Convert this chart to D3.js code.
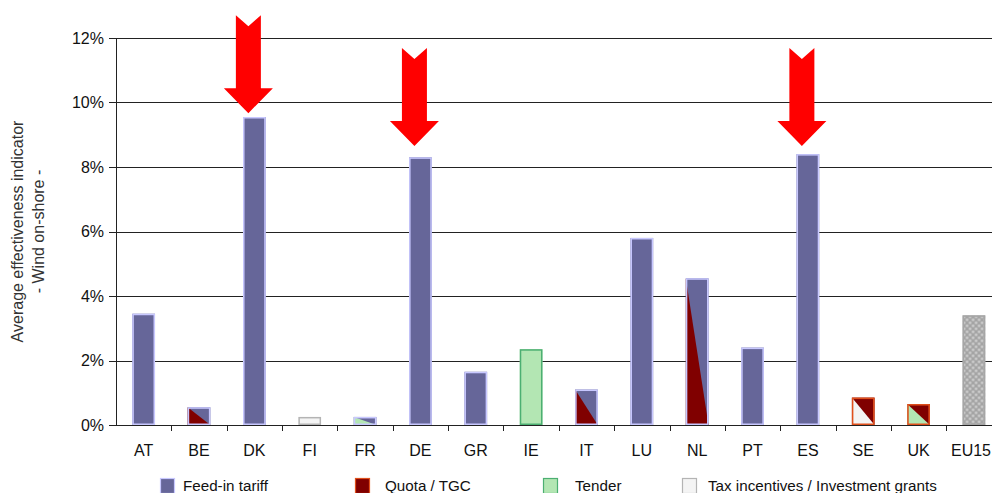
<!DOCTYPE html>
<html>
<head>
<meta charset="utf-8">
<script src="https://cdn.jsdelivr.net/npm/d3@7"></script>
<style>
  html, body { margin: 0; padding: 0; background: #fff; }
  svg { display: block; font-family: "Liberation Sans", Arial, sans-serif; }
</style>
</head>
<body>
<svg id="chart" width="992" height="493"></svg>
<script>
// ---- data ----
const categories = ["AT","BE","DK","FI","FR","DE","GR","IE","IT","LU","NL","PT","ES","SE","UK","EU15"];
const values     = [3.45, 0.55, 9.55, 0.25, 0.25, 8.3, 1.65, 2.35, 1.1, 5.8, 4.55, 2.4, 8.4, 0.85, 0.65, 3.4];
// scheme drawn in the upper-right triangle and in the lower-left triangle of each bar
const upperScheme = ["fit","fit","fit","tax","fit","fit","fit","tender","fit","fit","fit","fit","fit","quota","quota","eu"];
const lowerScheme = ["fit","quota","fit","tax","tender","fit","fit","tender","quota","fit","quota","fit","fit","tax","tender","eu"];
const yTicks = [0, 2, 4, 6, 8, 10, 12];
const arrowCountries = ["DK","DE","ES"];
const arrowTips = [9.67, 8.65, 8.65];
const legendKeys = ["fit","quota","tender","tax"];
const legendLabels = ["Feed-in tariff","Quota / TGC","Tender","Tax incentives / Investment grants"];
const yTitle = ["Average effectiveness indicator","- Wind on-shore -"];

(function() {
// ---- styles ----
const fills   = {fit:"#666699", quota:"#800000", tender:"#b3e6b3", tax:"#f4f4f4", eu:"url(#euPat)"};
const strokes = {fit:"#c8c8ff", quota:"#e0501c", tender:"#4caf72", tax:"#b4b4b4", eu:"#a6a6a6"};

const svg = d3.select("#chart");
const W = 992, H = 493;
const mLeft = 116, mTop = 38, mBottom = 425, band = 55.35;

const defs = svg.append("defs");
const pat = defs.append("pattern").attr("id","euPat").attr("patternUnits","userSpaceOnUse")
  .attr("width",6).attr("height",6);
pat.append("rect").attr("width",6).attr("height",6).attr("fill","#a4a4a4");
pat.append("circle").attr("cx",1.5).attr("cy",1.5).attr("r",1.3).attr("fill","#d4d4d4");
pat.append("circle").attr("cx",4.5).attr("cy",4.5).attr("r",1.3).attr("fill","#d4d4d4");

const x = d3.scaleBand().domain(categories).range([mLeft, mLeft + band*categories.length]).paddingInner(0).paddingOuter(0);
const y = d3.scaleLinear().domain([0,12]).range([mBottom, mTop]);

// gridlines
svg.append("g").selectAll("line").data(yTicks.filter(d => d > 0)).join("line")
  .attr("x1", mLeft).attr("x2", W)
  .attr("y1", d => Math.round(y(d)) + 0.5).attr("y2", d => Math.round(y(d)) + 0.5)
  .attr("stroke", "#222").attr("stroke-width", 1);

// bars
const bw = band * 0.41;
const data = categories.map((c,i) => ({c, v: values[i], up: upperScheme[i], lo: lowerScheme[i]}));
const bars = svg.append("g").selectAll("g").data(data).join("g")
  .attr("transform", d => `translate(${x(d.c) + x.bandwidth()/2 - bw/2},${y(d.v)})`);
bars.each(function(d) {
  const g = d3.select(this);
  const h = y(0) - y(d.v);
  g.append("rect").attr("width", bw).attr("height", h).attr("fill", fills[d.up]);
  if (d.lo !== d.up) {
    g.append("path").attr("d", `M0,0L0,${h}L${bw},${h}Z`).attr("fill", fills[d.lo]);
  }
  g.append("rect").attr("x",0.75).attr("y",0.75).attr("width", bw-1.5).attr("height", Math.max(0,h-1.5))
    .attr("fill","none").attr("stroke", strokes[d.up]).attr("stroke-width",1.5);
});

// y axis
const yAxis = svg.append("g");
yAxis.append("line").attr("x1", mLeft+0.5).attr("x2", mLeft+0.5).attr("y1", mTop).attr("y2", mBottom+1)
  .attr("stroke","#222");
yAxis.selectAll(".yt").data(yTicks).join("line")
  .attr("x1", mLeft-7).attr("x2", mLeft)
  .attr("y1", d => Math.round(y(d))+0.5).attr("y2", d => Math.round(y(d))+0.5)
  .attr("stroke","#222");
yAxis.selectAll("text").data(yTicks).join("text")
  .attr("x", mLeft-12).attr("y", d => y(d)).attr("dy","0.35em")
  .attr("text-anchor","end").attr("font-size",16).attr("fill","#111")
  .text(d => d + "%");

// x axis
const xAxis = svg.append("g");
xAxis.append("line").attr("x1", mLeft-3).attr("x2", W).attr("y1", mBottom+0.5).attr("y2", mBottom+0.5)
  .attr("stroke","#222");
xAxis.selectAll(".xt").data(categories.slice(1)).join("line")
  .attr("x1", d => Math.round(x(d))+0.5).attr("x2", d => Math.round(x(d))+0.5)
  .attr("y1", mBottom).attr("y2", mBottom+6).attr("stroke","#222");
xAxis.selectAll("text").data(categories).join("text")
  .attr("x", d => x(d) + x.bandwidth()/2).attr("y", 456)
  .attr("text-anchor","middle").attr("font-size",16).attr("fill","#111")
  .text(d => d)
  .each(function() {
    const bb = this.getBBox();
    if (bb.x + bb.width > W - 1) {
      d3.select(this).attr("text-anchor","end").attr("x", W - 1);
    }
  });

// y title
const yt = svg.append("text").attr("transform", `translate(23,${(mTop+mBottom)/2}) rotate(-90)`)
  .attr("text-anchor","middle").attr("font-size",16).attr("fill","#333");
yt.append("tspan").attr("x",0).attr("y",0).text(yTitle[0]);
yt.append("tspan").attr("x",0).attr("y",21).text(yTitle[1]);

// arrows
const arrowShape = (cx, ty) => {
  const hw = 24.5, sw = 12.5, headH = 25, total = 98, notch = 11;
  const t = ty - total;
  return `M${cx-sw},${t}L${cx},${t+notch}L${cx+sw},${t}L${cx+sw},${ty-headH}L${cx+hw},${ty-headH}` +
         `L${cx},${ty}L${cx-hw},${ty-headH}L${cx-sw},${ty-headH}Z`;
};
svg.append("g").selectAll("path").data(arrowCountries.map((c,i)=>({c, t: arrowTips[i]}))).join("path")
  .attr("d", d => arrowShape(x(d.c) + x.bandwidth()/2 - 6, y(d.t)))
  .attr("fill","#ff0000");

// legend
const legX = [160, 355, 543, 682];
const legTextX = [183, 385, 575, 708];
const leg = svg.append("g").selectAll("g").data(legendKeys).join("g")
  .attr("transform", (d,i) => `translate(${legX[i]},478)`);
leg.append("rect").attr("x",0.5).attr("y",0.5).attr("width",14).attr("height",15)
  .attr("fill", d => fills[d]).attr("stroke", d => strokes[d]).attr("stroke-width",1.2);
leg.append("text").attr("x",(d,i) => legTextX[i] - legX[i]).attr("y",8).attr("dy","0.35em")
  .attr("font-size",15.2).attr("fill","#111")
  .text((d,i) => legendLabels[i]);
})();
</script>
</body>
</html>
